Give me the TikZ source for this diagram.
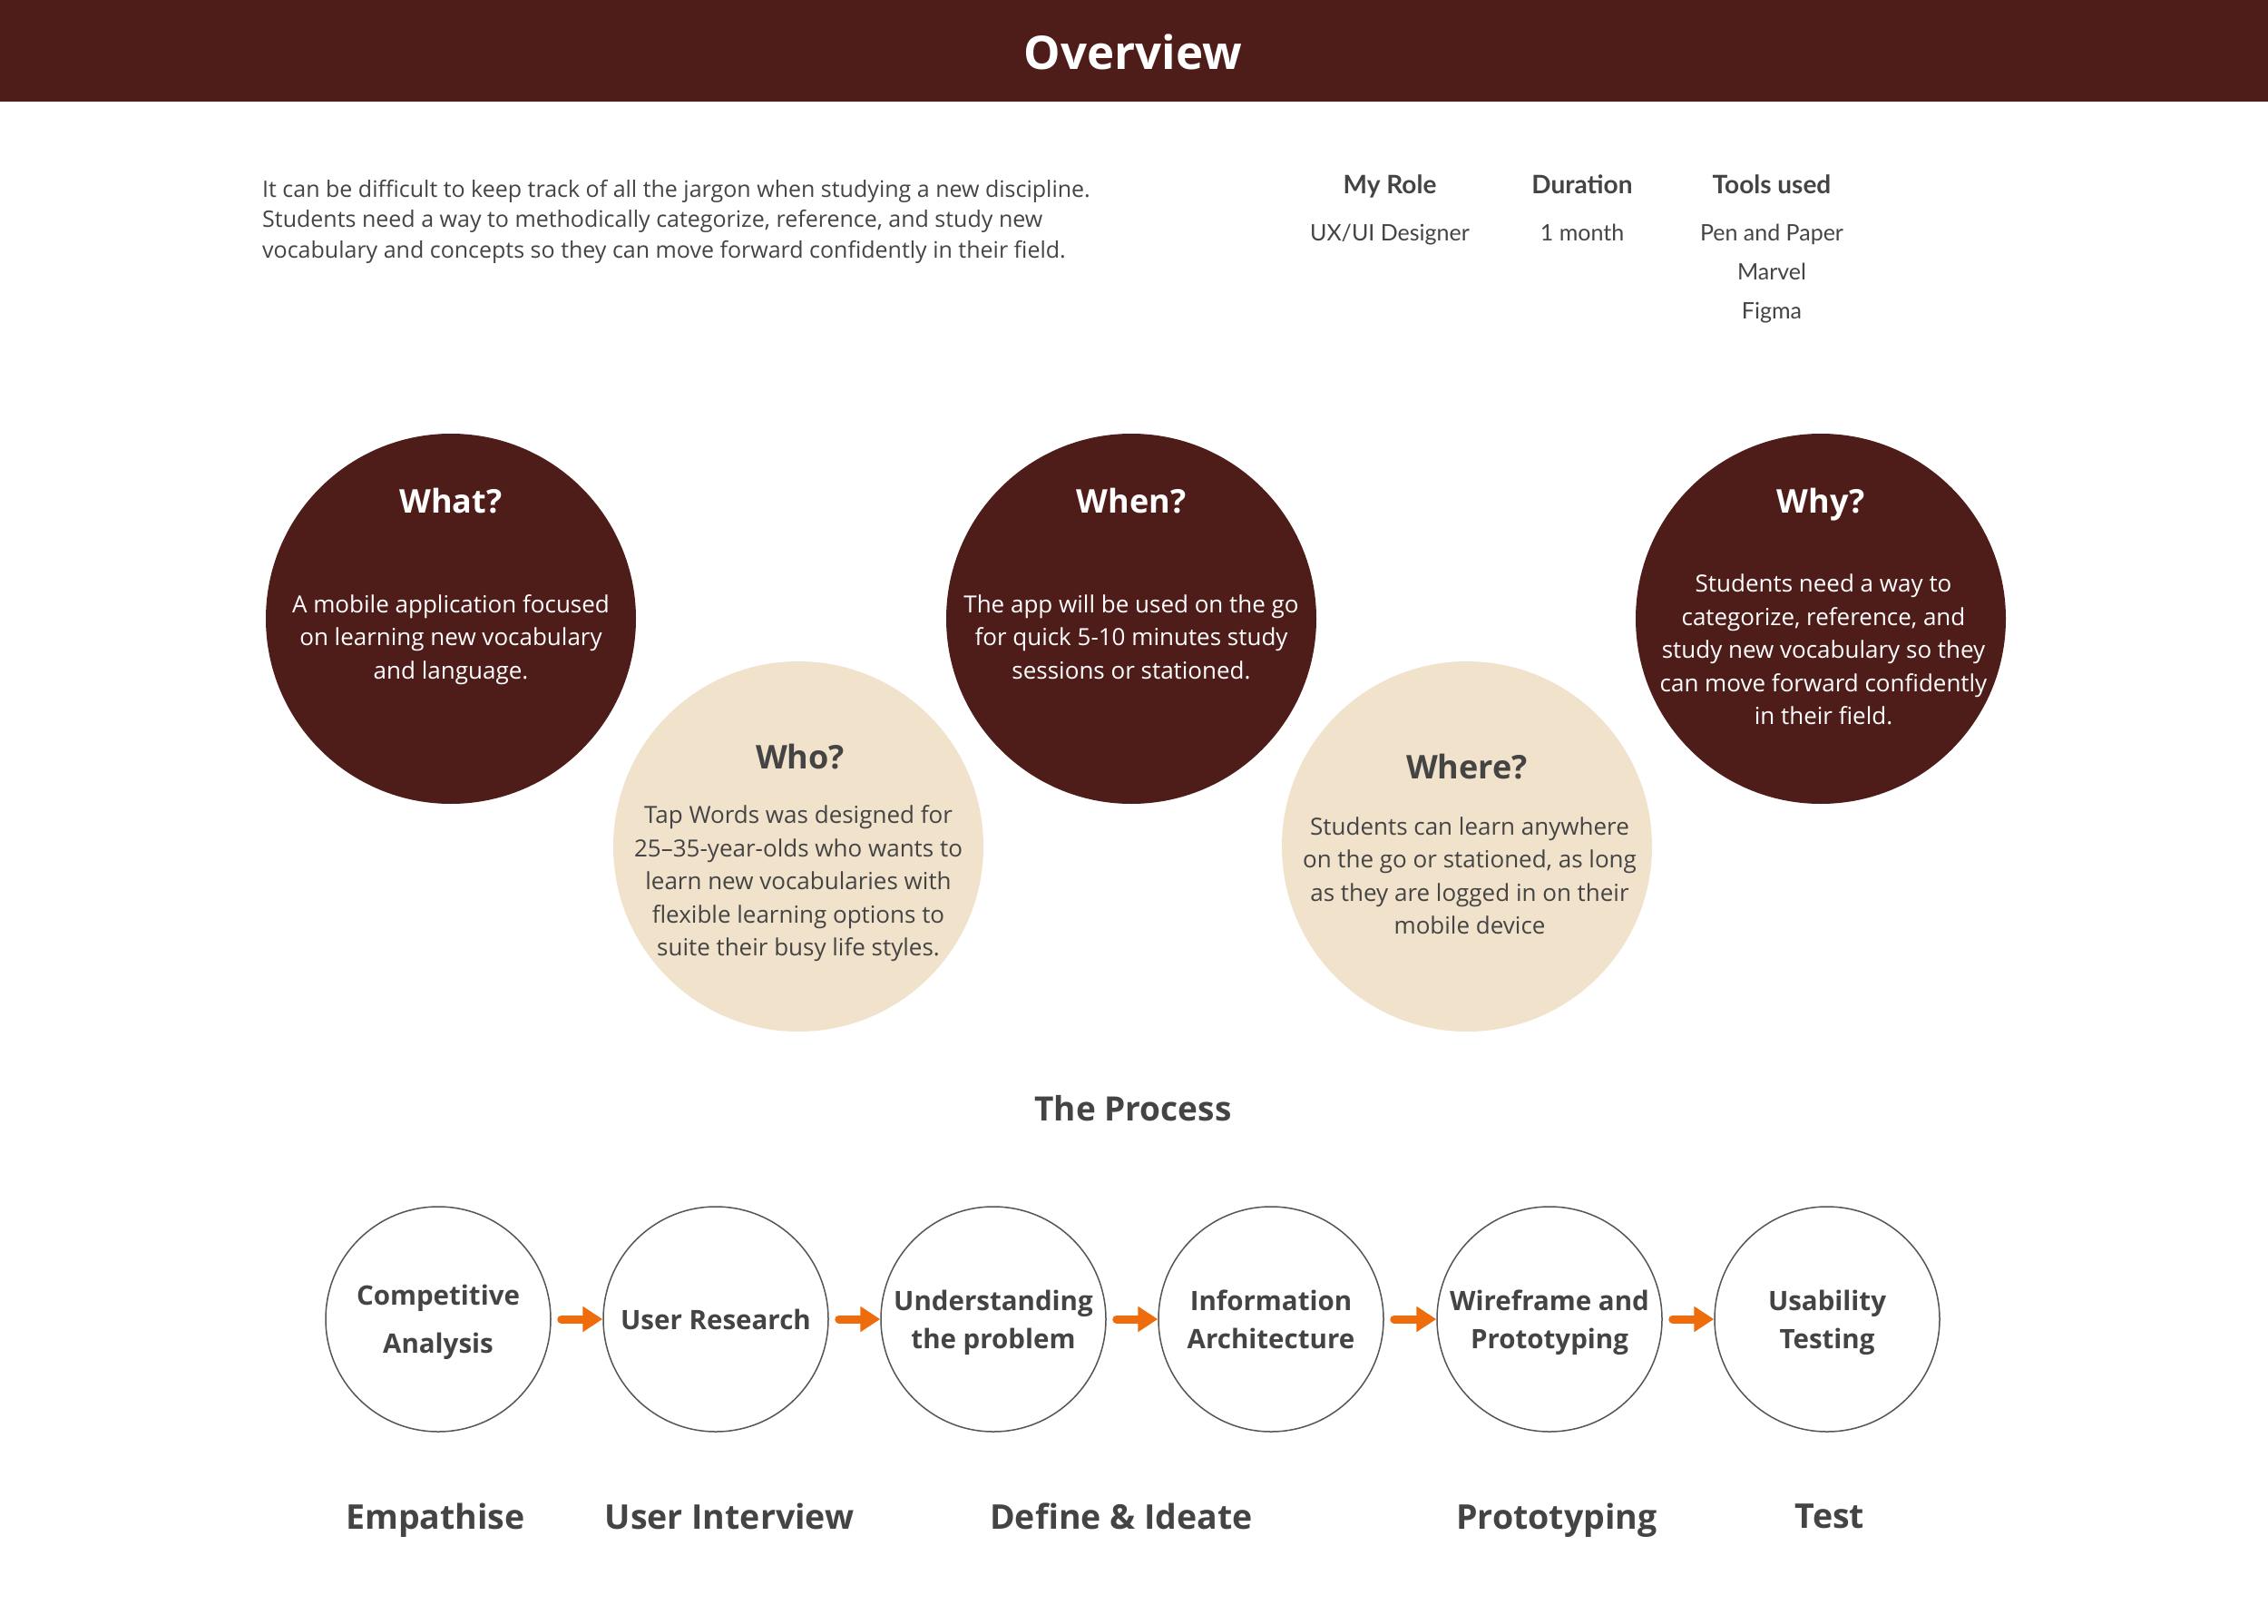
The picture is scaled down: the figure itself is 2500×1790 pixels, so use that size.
\documentclass[tikz,border=0pt]{standalone}
\usepackage{fontspec}
\setmainfont{Open Sans}
\newfontfamily\tablefont{Lato}
\usetikzlibrary{arrows.meta}
\definecolor{maroon}{HTML}{4E1D1A}
\definecolor{beige}{HTML}{F1E2CB}
\definecolor{txtgray}{HTML}{444444}
\definecolor{procorange}{HTML}{EE6C0C}
\definecolor{ringgray}{HTML}{555555}
\tikzset{
  every node/.append style={text depth=0pt},
  bigdark/.style={circle, fill=maroon, minimum size=408pt, inner sep=0pt},
  biglight/.style={circle, fill=beige, minimum size=408pt, inner sep=0pt},
  qtitle/.style={font=\fontsize{36}{44}\selectfont\bfseries},
  qbody/.style={align=center, font=\fontsize{26}{36.5}\selectfont},
  proc/.style={circle, draw=ringgray, line width=1.5pt, fill=white, minimum size=248pt, inner sep=0pt},
  proclabel/.style={align=center, text=txtgray, font=\fontsize{29.5}{42}\selectfont\bfseries},
  phase/.style={text=txtgray, font=\fontsize{37.5}{44}\selectfont\bfseries},
  parrow/.style={draw=procorange, line width=9pt, line cap=round, -{Triangle[length=22pt,width=27pt]}},
  thead/.style={text=txtgray, font=\tablefont\fontsize{28}{34}\selectfont\bfseries},
  tval/.style={text=txtgray, align=center, font=\tablefont\fontsize{25}{43}\selectfont},
}
\begin{document}
\begin{tikzpicture}[x=1pt, y=-1pt]
\useasboundingbox (0,0) rectangle (2500,1790);
\fill[white] (0,0) rectangle (2500,1790);
% header
\fill[maroon] (0,0) rectangle (2500,112);
\node[text=white, font=\fontsize{51}{60}\selectfont\bfseries] (title) at (1249,57) {Overview};

% intro
\node[anchor=west, align=left, text=txtgray, inner sep=0pt, font=\fontsize{25}{33.5}\selectfont] (intro) at (289,241)
  {It can be difficult to keep track of all the jargon when studying a new discipline.\\
   Students need a way to methodically categorize, reference, and study new\\
   vocabulary and concepts so they can move forward confidently in their field.};

% role table
\node[thead] (h1) at (1532,203) {My Role};
\node[thead] (h2) at (1744,203) {Duration};
\node[thead] (h3) at (1953,203) {Tools used};
\node[tval] (v1) at (1532,256) {UX/UI Designer};
\node[tval] (v2) at (1744,256) {1 month};
\node[tval] (v3) at (1953,299) {Pen and Paper\\Marvel\\Figma};

% question circles
\node[bigdark] (what) at (497,682) {};
\node[biglight] (who) at (880,933) {};
\node[bigdark] (when) at (1247,682) {};
\node[biglight] (where) at (1617,933) {};
\node[bigdark] (why) at (2007,682) {};

\node[qtitle, text=white] (whatT) at (497,552) {What?};
\node[qbody, text=white] (whatB) at (497,702) {A mobile application focused\\on learning new vocabulary\\and language.};

\node[qtitle, text=txtgray] (whoT) at (882,834) {Who?};
\node[qbody, text=txtgray] (whoB) at (880,971) {Tap Words was designed for\\25–35-year-olds who wants to\\learn new vocabularies with\\flexible learning options to\\suite their busy life styles.};

\node[qtitle, text=white] (whenT) at (1247,552) {When?};
\node[qbody, text=white] (whenB) at (1247,702) {The app will be used on the go\\for quick 5-10 minutes study\\sessions or stationed.};

\node[qtitle, text=txtgray] (whereT) at (1617,845) {Where?};
\node[qbody, text=txtgray] (whereB) at (1620,965) {Students can learn anywhere\\on the go or stationed, as long\\as they are logged in on their\\mobile device};

\node[qtitle, text=white] (whyT) at (2007,552) {Why?};
\node[qbody, text=white] (whyB) at (2010,716) {Students need a way to\\categorize, reference, and\\study new vocabulary so they\\can move forward confidently\\in their field.};

% process
\node[text=txtgray, font=\fontsize{37}{44}\selectfont\bfseries] (proctitle) at (1249,1221) {The Process};

\node[proc] (c1) at (483,1454) {};
\node[proc] (c2) at (789,1454) {};
\node[proc] (c3) at (1095,1454) {};
\node[proc] (c4) at (1401,1454) {};
\node[proc] (c5) at (1708,1454) {};
\node[proc] (c6) at (2014,1454) {};

\node[proclabel, font=\fontsize{29.5}{53}\selectfont\bfseries] (l1) at (483,1454) {Competitive\\Analysis};
\node[proclabel] (l2) at (789,1454) {User Research};
\node[proclabel] (l3) at (1095,1454) {Understanding\\the problem};
\node[proclabel] (l4) at (1401,1454) {Information\\Architecture};
\node[proclabel] (l5) at (1708,1454) {Wireframe and\\Prototyping};
\node[proclabel] (l6) at (2014,1454) {Usability\\Testing};

\draw[parrow] ([xshift=11pt]c1.east) -- (c2.west);
\draw[parrow] ([xshift=11pt]c2.east) -- (c3.west);
\draw[parrow] ([xshift=11pt]c3.east) -- (c4.west);
\draw[parrow] ([xshift=11pt]c4.east) -- (c5.west);
\draw[parrow] ([xshift=11pt]c5.east) -- (c6.west);

% phases
\node[phase] (p1) at (480,1671) {Empathise};
\node[phase] (p2) at (804,1671) {User Interview};
\node[phase] (p3) at (1236,1671) {Define \& Ideate};
\node[phase] (p4) at (1716,1671) {Prototyping};
\node[phase] (p5) at (2017,1671) {Test};
\end{tikzpicture}
\end{document}
